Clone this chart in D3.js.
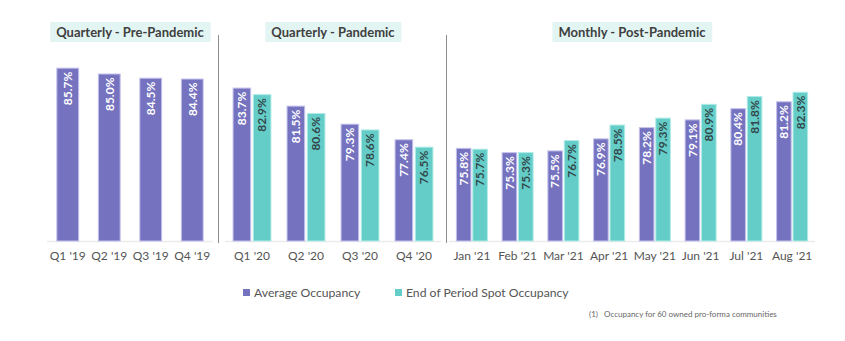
<!DOCTYPE html>
<html>
<head>
<meta charset="utf-8">
<script src="https://d3js.org/d3.v7.min.js"></script>
<style>
  body { margin: 0; background: #fff; }
  svg { display: block; font-family: Lato, "Open Sans", sans-serif; }
</style>
</head>
<body>
<div id="grafico"></div>
<script>
// datos de ocupación
const preLabels = ["Q1 '19", "Q2 '19", "Q3 '19", "Q4 '19"];
const preAvg = [85.7, 85.0, 84.5, 84.4];

const panLabels = ["Q1 '20", "Q2 '20", "Q3 '20", "Q4 '20"];
const panAvg = [83.7, 81.5, 79.3, 77.4];
const panSpot = [82.9, 80.6, 78.6, 76.5];

const postLabels = ["Jan '21", "Feb '21", "Mar '21", "Apr '21", "May '21", "Jun '21", "Jul '21", "Aug '21"];
const postAvg = [75.8, 75.3, 75.5, 76.9, 78.2, 79.1, 80.4, 81.2];
const postSpot = [75.7, 75.3, 76.7, 78.5, 79.3, 80.9, 81.8, 82.3];

const seriesNames = ["Average Occupancy", "End of Period Spot Occupancy"];

var width = 845;
var height = 341;
var baseY = 241;

var colores = {
  avg: { fill: "#7572c0", stroke: "#c4c2ec", text: "#ffffff" },
  spot: { fill: "#64cdc8", stroke: "#b0ebe7", text: "#33474a" }
};

var svg = d3.select("#grafico")
  .append("svg")
  .attr("width", width)
  .attr("height", height);

// cada panel tiene su propia escala
var paneles = [
  { title: "Quarterly - Pre-Pandemic", labels: preLabels, series: [{ key: "avg", values: preAvg }],
    x0: 47, x1: 213, pIn: 0.45, pOut: 0.225, subPad: 0, yMax: 89.0 },
  { title: "Quarterly - Pandemic", labels: panLabels, series: [{ key: "avg", values: panAvg }, { key: "spot", values: panSpot }],
    x0: 225, x1: 441, pIn: 0.28, pOut: 0.14, subPad: 0.08, yMax: 89.5 },
  { title: "Monthly - Post-Pandemic", labels: postLabels, series: [{ key: "avg", values: postAvg }, { key: "spot", values: postSpot }],
    x0: 449, x1: 815, pIn: 0.3, pOut: 0.15, subPad: 0.05, yMax: 88.3 }
];

paneles.forEach(function(p) {
  var g = svg.append("g");

  var x = d3.scaleBand()
    .domain(p.labels)
    .range([p.x0, p.x1])
    .paddingInner(p.pIn)
    .paddingOuter(p.pOut);

  var xSub = d3.scaleBand()
    .domain(p.series.map(function(s) { return s.key; }))
    .range([0, x.bandwidth()])
    .paddingInner(p.subPad);

  var y = d3.scaleLinear()
    .domain([65, p.yMax])
    .range([baseY, 40]);

  // línea base
  g.append("line")
    .attr("x1", p.x0).attr("x2", p.x1)
    .attr("y1", baseY + 0.5).attr("y2", baseY + 0.5)
    .attr("stroke", "#ececec")
    .attr("stroke-width", 1.5);

  // etiquetas del eje x
  var axis = g.append("g")
    .attr("transform", "translate(0," + baseY + ")")
    .call(d3.axisBottom(x).tickSize(0).tickPadding(10));
  axis.select(".domain").remove();
  axis.selectAll("text")
    .attr("font-family", "Lato, sans-serif")
    .attr("font-size", 12)
    .attr("fill", "#555");

  p.series.forEach(function(s) {
    var c = colores[s.key];
    var datos = s.values.map(function(v, i) { return { label: p.labels[i], value: v }; });

    g.selectAll(".bar-" + s.key)
      .data(datos)
      .enter()
      .append("rect")
      .attr("x", function(d) { return x(d.label) + xSub(s.key) + 0.5; })
      .attr("y", function(d) { return y(d.value) + 0.5; })
      .attr("width", xSub.bandwidth() - 1)
      .attr("height", function(d) { return baseY - y(d.value) - 0.5; })
      .attr("fill", c.fill)
      .attr("stroke", c.stroke)
      .attr("stroke-width", 1);

    g.selectAll(".lbl-" + s.key)
      .data(datos)
      .enter()
      .append("text")
      .attr("transform", function(d) {
        var cx = x(d.label) + xSub(s.key) + xSub.bandwidth() / 2;
        return "translate(" + cx + "," + (y(d.value) + 4) + ") rotate(-90)";
      })
      .attr("dy", "0.36em")
      .attr("text-anchor", "end")
      .attr("font-size", 12)
      .attr("font-weight", "bold")
      .attr("fill", c.text)
      .text(function(d) { return d.value.toFixed(1) + "%"; });
  });

  // título con fondo
  var cx = (p.x0 + p.x1) / 2;
  var caja = g.append("rect").attr("fill", "#e3f5f3");
  var t = g.append("text")
    .attr("x", cx)
    .attr("y", 37)
    .attr("text-anchor", "middle")
    .attr("font-size", 13)
    .attr("font-weight", "bold")
    .attr("fill", "#404040")
    .text(p.title);
  var bb = t.node().getBBox();
  caja.attr("x", bb.x - 6).attr("y", 22)
    .attr("width", bb.width + 12).attr("height", 20);
});

// separadores verticales
[218.5, 446.5].forEach(function(xv) {
  svg.append("line")
    .attr("x1", xv).attr("x2", xv)
    .attr("y1", 35).attr("y2", 243)
    .attr("stroke", "#8c8c8c")
    .attr("stroke-width", 1);
});

// leyenda
var leyenda = [
  { name: seriesNames[0], key: "avg", x: 243 },
  { name: seriesNames[1], key: "spot", x: 395 }
];
leyenda.forEach(function(l) {
  svg.append("rect")
    .attr("x", l.x).attr("y", 289)
    .attr("width", 7).attr("height", 7)
    .attr("fill", colores[l.key].fill);
  svg.append("text")
    .attr("x", l.x + 11).attr("y", 297)
    .attr("font-size", 12.2)
    .attr("fill", "#555")
    .text(l.name);
});

// nota al pie
svg.append("text")
  .attr("x", 589).attr("y", 317)
  .attr("font-size", 8)
  .attr("fill", "#666")
  .attr("xml:space", "preserve")
  .text("(1)   Occupancy for 60 owned pro-forma communities");
</script>
</body>
</html>
